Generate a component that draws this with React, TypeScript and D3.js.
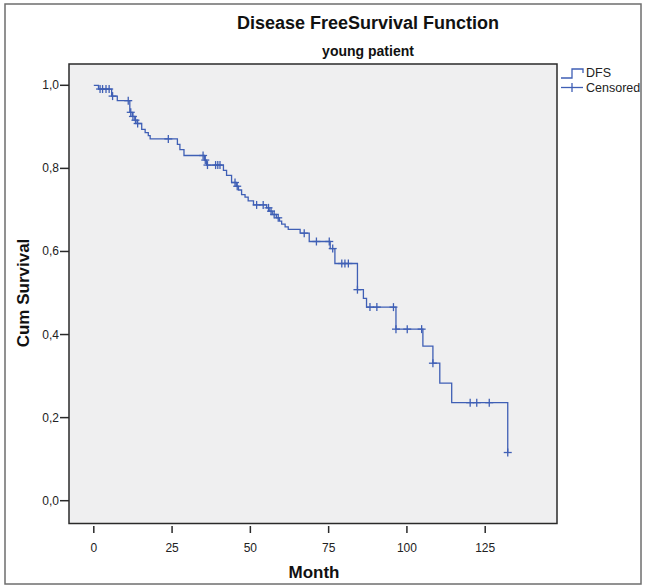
import React from "react";
import * as d3 from "d3";

// Kaplan-Meier drops: [month, survival after drop]
const dropTimes = [1.5, 5.7, 7.5, 11.5, 12.3, 13.1, 13.8, 15.3, 16.4, 17.4, 18.0, 26.7, 27.5, 28.8, 35.3, 36.0, 41.4, 42.4, 44.0, 45.5, 46.2, 47.2, 48.3, 49.3, 51.0, 55.2, 56.0, 57.0, 58.3, 59.3, 60.0, 61.1, 62.1, 65.9, 68.8, 75.5, 77.0, 84.2, 86.1, 87.1, 96.5, 105.1, 108.3, 110.5, 114.3, 132.2];
const dropSurv = [0.991, 0.974, 0.963, 0.935, 0.925, 0.916, 0.908, 0.894, 0.886, 0.879, 0.871, 0.858, 0.845, 0.831, 0.82, 0.808, 0.795, 0.783, 0.766, 0.757, 0.748, 0.737, 0.731, 0.722, 0.712, 0.705, 0.697, 0.689, 0.681, 0.673, 0.666, 0.659, 0.653, 0.644, 0.624, 0.607, 0.571, 0.508, 0.487, 0.466, 0.413, 0.372, 0.331, 0.283, 0.236, 0.116];
const censorTimes = [2.0, 2.8, 3.9, 4.9, 6.0, 11.0, 11.8, 12.5, 13.3, 14.0, 23.8, 34.9, 35.6, 36.3, 38.9, 39.6, 40.3, 45.1, 45.8, 52.0, 54.1, 55.8, 56.6, 57.6, 58.9, 67.2, 71.1, 75.2, 76.3, 79.2, 80.2, 81.3, 84.2, 88.2, 90.4, 95.7, 96.5, 100.1, 104.7, 108.3, 120.2, 122.3, 126.3, 132.2];
const xTicks = [0, 25, 50, 75, 100, 125];
const yTicks = [0, 0.2, 0.4, 0.6, 0.8, 1.0];

const W = 646, H = 587;
const plot = { left: 69, right: 557, top: 64, bottom: 523.5 };
const LINE = "#3f5fb5";

function survAt(t: number) {
  let s = 1;
  for (let i = 0; i < dropTimes.length; i++) if (dropTimes[i] <= t) s = dropSurv[i];
  return s;
}

export default function App() {
  const x = d3.scaleLinear().domain([0, 125]).range([93.8, 485.2]);
  const y = d3.scaleLinear().domain([0, 1]).range([500.7, 85.3]);
  const pts: [number, number][] = [[0, 1], ...dropTimes.map((t, i) => [t, dropSurv[i]] as [number, number])];
  const path = d3.line<[number, number]>().x(d => x(d[0])).y(d => y(d[1])).curve(d3.curveStepAfter)(pts) || "";
  const fmt = (v: number) => v.toFixed(1).replace(".", ",");
  const font = "Liberation Sans, Arial, sans-serif";
  return (
    <svg width={W} height={H} style={{ position: "absolute", left: 0, top: 0 }} fontFamily={font}>
      <rect x={0} y={0} width={W} height={H} fill="#fff" />
      <rect x={5} y={4} width={636} height={580} fill="none" stroke="#6e6e6e" strokeWidth={1.5} />
      <text x={368} y={29} textAnchor="middle" fontSize={18} fontWeight="bold" fill="#111">Disease FreeSurvival Function</text>
      <text x={368} y={56} textAnchor="middle" fontSize={14} fontWeight="bold" fill="#111">young patient</text>
      <rect x={plot.left} y={plot.top} width={plot.right - plot.left} height={plot.bottom - plot.top} fill="#efeff0" stroke="#2a2a2a" strokeWidth={1.5} />
      {yTicks.map(v => (
        <g key={v}>
          <line x1={plot.left - 9} x2={plot.left} y1={y(v)} y2={y(v)} stroke="#2a2a2a" strokeWidth={1.5} />
          <text x={plot.left - 10} y={y(v) + 4} textAnchor="end" fontSize={12} fill="#222">{fmt(v)}</text>
        </g>
      ))}
      {xTicks.map(v => (
        <g key={v}>
          <line x1={x(v)} x2={x(v)} y1={plot.bottom + 2.5} y2={plot.bottom + 9.5} stroke="#2a2a2a" strokeWidth={1.5} />
          <text x={x(v)} y={552} textAnchor="middle" fontSize={12} fill="#222">{v}</text>
        </g>
      ))}
      <text x={314} y={578} textAnchor="middle" fontSize={17} fontWeight="bold" fill="#111">Month</text>
      <text transform={`translate(29,293) rotate(-90)`} textAnchor="middle" fontSize={17} fontWeight="bold" fill="#111">Cum Survival</text>
      <path d={path} fill="none" stroke={LINE} strokeWidth={1.3} />
      {censorTimes.map((t, i) => {
        const cx = x(t), cy = y(survAt(t));
        return (
          <g key={i} stroke={LINE} strokeWidth={1.3}>
            <line x1={cx - 4} x2={cx + 4} y1={cy} y2={cy} />
            <line x1={cx} x2={cx} y1={cy - 4} y2={cy + 4} />
          </g>
        );
      })}
      <path d="M561,78 H572 V69 H583 V73" fill="none" stroke={LINE} strokeWidth={1.3} />
      <text x={586} y={77} fontSize={12.5} fill="#222">DFS</text>
      <line x1={561} x2={583} y1={87.5} y2={87.5} stroke={LINE} strokeWidth={1.3} />
      <line x1={572} x2={572} y1={83} y2={92} stroke={LINE} strokeWidth={1.3} />
      <text x={586} y={92} fontSize={12.5} fill="#222">Censored</text>
    </svg>
  );
}
